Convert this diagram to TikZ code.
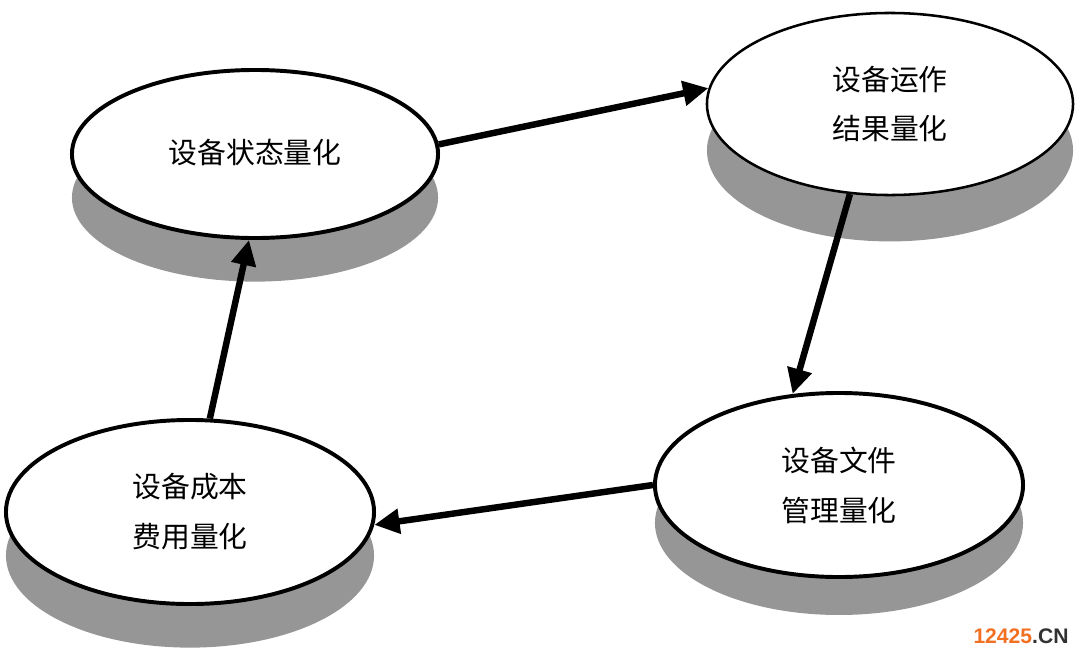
\documentclass[tikz,border=0pt]{standalone}
\usepackage{fontspec}
\usepackage{tikz}
\usetikzlibrary{shapes,arrows.meta,shadows}
\newfontfamily\cjk{Noto Sans CJK SC}
\newfontfamily\wmfont{Liberation Sans}
\definecolor{shadowgray}{RGB}{150,150,150}
\definecolor{wmorange}{RGB}{242,112,34}
\definecolor{wmgray}{RGB}{50,50,50}
\tikzset{
  qbox/.style={ellipse, draw, line width=2.8pt, fill=white, align=center,
    font=\cjk\fontsize{20.5}{35.5}\selectfont,
    drop shadow={shadow xshift=0pt, shadow yshift=-#1, opacity=1, fill=shadowgray}},
  qbox/.default=30pt,
  flow/.style={line width=4.6pt, -{Triangle[length=18pt,width=17pt]}}
}
\begin{document}
\begin{tikzpicture}[x=0.025cm,y=-0.025cm]
\useasboundingbox (0,0) rectangle (1080,659);
\node[qbox=31pt, minimum width=9.15cm, minimum height=4.2cm] (state) at (255,154) {\raisebox{4pt}{设备状态量化}};
\node[qbox=33pt, line width=1.8pt, minimum width=9.15cm, minimum height=4.55cm] (result) at (890,104) {设备运作\\结果量化};
\node[qbox=27pt, minimum width=9.2cm, minimum height=4.6cm] (file) at (839,485) {设备文件\\管理量化};
\node[qbox=31pt, minimum width=9.2cm, minimum height=4.6cm] (cost) at (190,512) {设备成本\\费用量化};
\draw[flow] (state.3) -- (result.175);
\draw[flow] (result.246) -- (file.117);
\draw[flow] (file.180) -- (cost.356.5);
\draw[flow] (cost.78) -- (state.266);
\node[font=\wmfont\bfseries\fontsize{15}{15}\selectfont] (mark) at (1021,636) {\textcolor{wmorange}{12425}\textcolor{wmgray}{.CN}};
\end{tikzpicture}
\end{document}
